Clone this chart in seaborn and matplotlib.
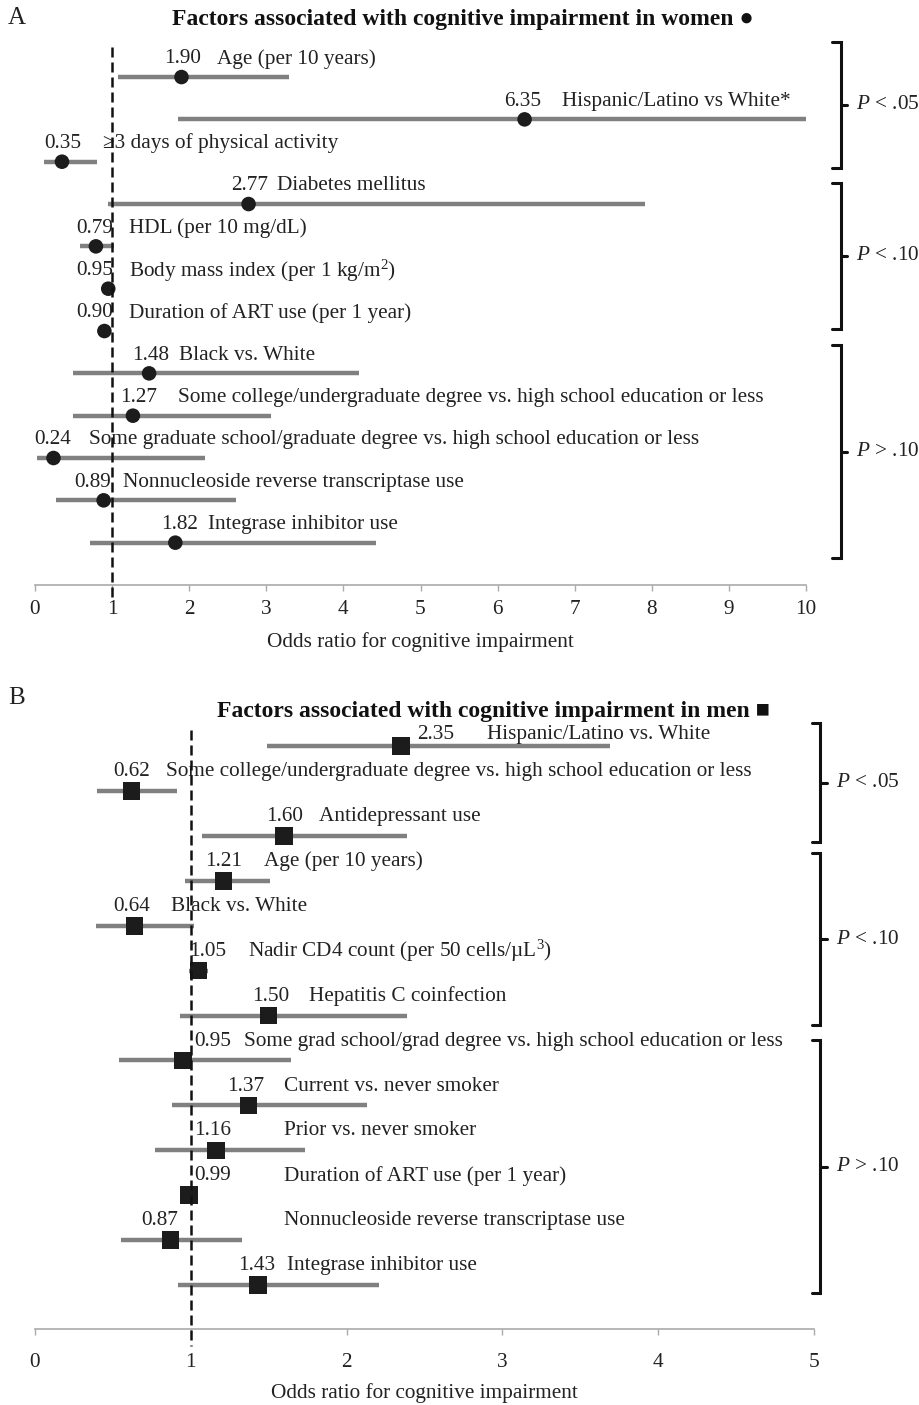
import numpy as np
import matplotlib
matplotlib.use('Agg')
import matplotlib.pyplot as plt
import seaborn as sns

# Panel A - women
a_labels = ['Age (per 10 years)',
            'Hispanic/Latino vs White*',
            '≥3 days of physical activity',
            'Diabetes mellitus',
            'HDL (per 10 mg/dL)',
            'Body mass index (per 1 kg/m$^2$)',
            'Duration of ART use (per 1 year)',
            'Black vs. White',
            'Some college/undergraduate degree vs. high school education or less',
            'Some graduate school/graduate degree vs. high school education or less',
            'Nonnucleoside reverse transcriptase use',
            'Integrase inhibitor use']
a_or = [1.90, 6.35, 0.35, 2.77, 0.79, 0.95, 0.90, 1.48, 1.27, 0.24, 0.89, 1.82]
a_lo = [1.08, 1.86, 0.12, 0.95, 0.58, 0.90, 0.82, 0.49, 0.49, 0.03, 0.27, 0.71]
a_hi = [3.29, 10.0, 0.80, 7.91, 1.02, 1.00, 0.99, 4.20, 3.06, 2.21, 2.61, 4.42]
a_groups = ['$\\mathit{P}$ < .05', '$\\mathit{P}$ < .10', '$\\mathit{P}$ > .10']

# Panel B - men
b_labels = ['Hispanic/Latino vs. White',
            'Some college/undergraduate degree vs. high school education or less',
            'Antidepressant use',
            'Age (per 10 years)',
            'Black vs. White',
            'Nadir CD4 count (per 50 cells/µL$^3$)',
            'Hepatitis C coinfection',
            'Some grad school/grad degree vs. high school education or less',
            'Current vs. never smoker',
            'Prior vs. never smoker',
            'Duration of ART use (per 1 year)',
            'Nonnucleoside reverse transcriptase use',
            'Integrase inhibitor use']
b_or = [2.35, 0.62, 1.60, 1.21, 0.64, 1.05, 1.50, 0.95, 1.37, 1.16, 0.99, 0.87, 1.43]
b_lo = [1.49, 0.40, 1.07, 0.96, 0.39, 0.99, 0.93, 0.54, 0.88, 0.77, 0.94, 0.55, 0.92]
b_hi = [3.69, 0.91, 2.39, 1.51, 1.02, 1.11, 2.39, 1.64, 2.13, 1.73, 1.04, 1.33, 2.21]
b_groups = ['$\\mathit{P}$ < .05', '$\\mathit{P}$ < .10', '$\\mathit{P}$ > .10']

# text layout (x of value label centre / category label start, vertical offset in rows)
a_val_x = [1.91, 6.33, 0.36, 2.78, 0.77, 0.77, 0.77, 1.50, 1.35, 0.23, 0.75, 1.87]
a_lab_x = [2.36, 6.84, 0.88, 3.14, 1.22, 1.22, 1.22, 1.87, 1.85, 0.70, 1.14, 2.24]
a_dy = [-0.43] * 12
a_brackets = [(-0.83, 2.15), (2.5, 5.95), (6.34, 11.37)]

b_val_x = [2.57, 0.62, 1.60, 1.21, 0.62, 1.11, 1.51, 1.14, 1.35, 1.14, 1.14, 0.80, 1.42]
b_lab_x = [2.90, 0.84, 1.82, 1.47, 0.87, 1.37, 1.76, 1.34, 1.60, 1.60, 1.60, 1.60, 1.62]
b_dy = [-0.25] + [-0.43] * 12
b_brackets = [(-0.51, 2.14), (2.38, 6.21), (6.55, 12.18)]

sns.set_theme(style='white')
FONT = ['Liberation Serif', 'DejaVu Serif']
plt.rcParams['font.family'] = FONT
plt.rcParams['mathtext.fontset'] = 'custom'
plt.rcParams['mathtext.rm'] = 'Liberation Serif'
plt.rcParams['mathtext.it'] = 'Liberation Serif:italic'
FS = 15.3
LINE_C = '#808080'
MARK_C = '#1c1c1c'


def draw_panel(ax, odds, lo, hi, labels, val_x, lab_x, dy, groups, brackets,
               marker, msize, xmax, ylim, dash_span, bx, hook, tick_pad, label_pad):
    rows = np.arange(len(odds))
    ax.hlines(rows, lo, hi, color=LINE_C, lw=3.2, zorder=2)
    sns.scatterplot(x=odds, y=rows, marker=marker, s=msize, color=MARK_C,
                    edgecolor='none', linewidth=0, zorder=3, legend=False, ax=ax)
    ax.plot([1, 1], dash_span, ls=(0, (4, 2)), color='#111111', lw=1.8,
            clip_on=False, zorder=4)
    for r in rows:
        ax.text(val_x[r], r + dy[r], f'{odds[r]:.2f}', ha='center', va='center',
                fontsize=FS, color='#222222')
        ax.text(lab_x[r], r + dy[r], labels[r], ha='left', va='center',
                fontsize=FS, color='#222222')
    for (y0, y1), g in zip(brackets, groups):
        ym = (y0 + y1) / 2
        ax.plot([bx - hook, bx, bx, bx - hook], [y0, y0, y1, y1], color='#111111',
                lw=2.2, clip_on=False, solid_joinstyle='miter')
        ax.plot([bx, bx + hook * 0.8], [ym, ym], color='#111111', lw=2.2, clip_on=False)
        ax.text(bx + hook * 1.8, ym, g, ha='left', va='center', fontsize=FS,
                color='#222222')
    ax.set_xlim(0, xmax)
    ax.set_ylim(*ylim)
    ax.set_xticks(range(0, xmax + 1))
    ax.set_yticks([])
    ax.set_ylabel('')
    ax.set_xlabel('Odds ratio for cognitive impairment', fontsize=FS,
                  color='#222222', labelpad=label_pad)
    ax.tick_params(axis='x', bottom=True, length=4, width=1, color='#aaaaaa',
                   direction='out', labelsize=FS, labelcolor='#222222', pad=tick_pad)
    for s in ['left', 'top', 'right']:
        ax.spines[s].set_visible(False)
    ax.spines['bottom'].set_color('#aaaaaa')
    ax.spines['bottom'].set_linewidth(1.2)


fig = plt.figure(figsize=(9.19, 14.05), dpi=100)
axA = fig.add_axes([35 / 919, 1 - 585 / 1405, 771 / 919, (585 - 47) / 1405])
axB = fig.add_axes([35 / 919, 1 - 1329 / 1405, 779 / 919, (1329 - 730) / 1405])

draw_panel(axA, a_or, a_lo, a_hi, a_labels, a_val_x, a_lab_x, a_dy, a_groups,
           a_brackets, 'o', 110, 10, (12.0, -0.71), (-0.71, 12.3), 10.45, 0.11,
           7, 9)
draw_panel(axB, b_or, b_lo, b_hi, b_labels, b_val_x, b_lab_x, b_dy, b_groups,
           b_brackets, 's', 160, 5, (12.98, -0.36), (-0.36, 13.35), 5.04, 0.055,
           13, 8)

fig.text(8 / 919, 1 - 18 / 1405, 'A', fontsize=18, ha='left', va='center', color='#222222')
fig.text(8 / 919, 1 - 698 / 1405, 'B', fontsize=18, ha='left', va='center', color='#222222')
fig.text(463 / 919, 1 - 20 / 1405, 'Factors associated with cognitive impairment in women ●',
         fontsize=17, fontweight='bold', ha='center', va='center', color='#111111')
fig.text(493 / 919, 1 - 712 / 1405, 'Factors associated with cognitive impairment in men ■',
         fontsize=17, fontweight='bold', ha='center', va='center', color='#111111')

fig.savefig('out.png', dpi=100, facecolor='white')
